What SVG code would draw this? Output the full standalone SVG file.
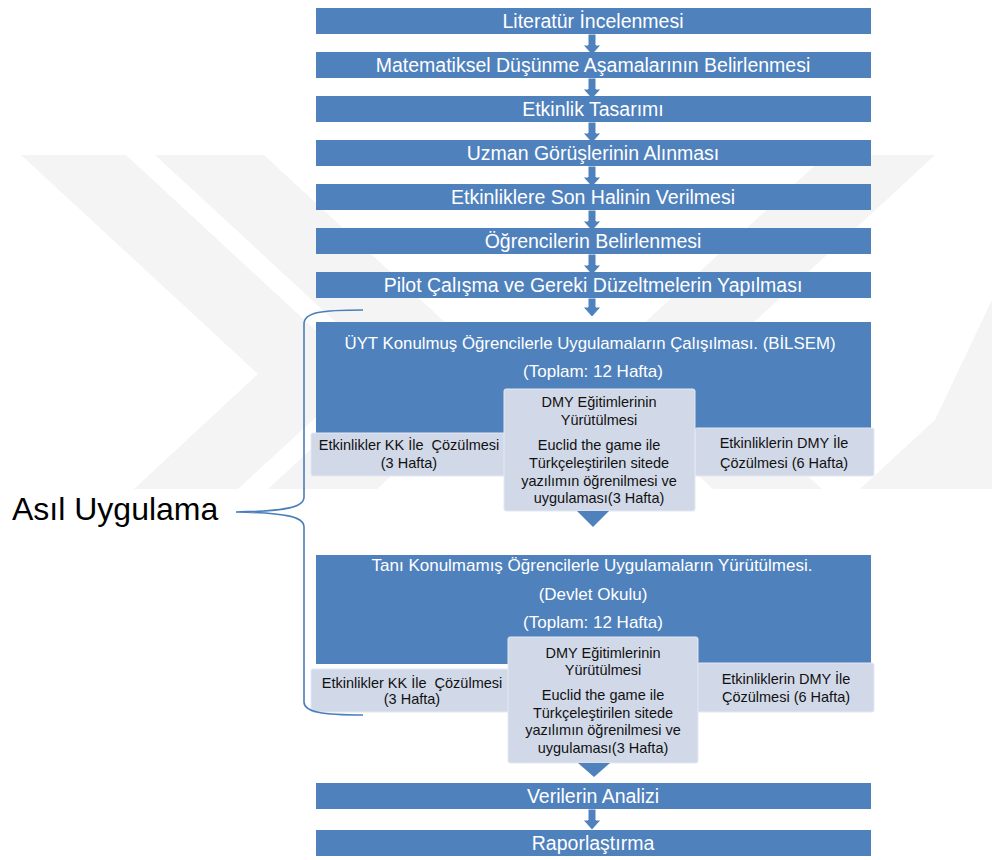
<svg xmlns="http://www.w3.org/2000/svg" width="992" height="860" viewBox="0 0 992 860">
<style>
.bg{fill:#ffffff}
.wm{fill:#f4f4f4}
.main{fill:#4f81bd}
.sub{fill:#d1d9e8;stroke:#e3e8f1;stroke-width:1}
.tw{font-family:"Liberation Sans",Arial,sans-serif;fill:#ffffff;text-anchor:middle;font-size:19.5px}
.th{font-family:"Liberation Sans",Arial,sans-serif;fill:#ffffff;text-anchor:middle;font-size:17px}
.ts{font-family:"Liberation Sans",Arial,sans-serif;fill:#111111;text-anchor:middle;font-size:14.5px}
.arr{fill:#4f81bd;stroke:#ffffff;stroke-width:1}
.tri{fill:#4f81bd}
.brace{fill:none;stroke:#4a7ebb;stroke-width:1.6}
.lbl{font-family:"Liberation Sans",Arial,sans-serif;fill:#000000;font-size:32px}
</style>
<rect class="bg" x="0" y="0" width="992" height="860"/>
<g id="watermark">
<polygon class="wm" points="21,155 126,155 363,374 238,489 134,489 258,374"/>
<polygon class="wm" points="155,155 264,155 501,374 377,489 268,489 392,374"/>
<polygon class="wm" points="826,155 935,155 698,374 822,489 713,489 589,374"/>
<polygon class="wm" points="992,300 992,489 860,489 935,420"/>
</g>
<g id="connectors">
<polygon class="arr" points="588,34 596,34 596,45 601,45 592,55 583,45 588,45"/>
<polygon class="arr" points="588,78 596,78 596,89 601,89 592,99 583,89 588,89"/>
<polygon class="arr" points="588,122 596,122 596,133 601,133 592,143 583,133 588,133"/>
<polygon class="arr" points="588,166 596,166 596,177 601,177 592,187 583,177 588,177"/>
<polygon class="arr" points="588,210 596,210 596,221 601,221 592,231 583,221 588,221"/>
<polygon class="arr" points="588,254 596,254 596,265 601,265 592,275 583,265 588,265"/>
<polygon class="arr" points="588,298 596,298 596,307 601,307 592,317 583,307 588,307"/>
<polygon class="arr" points="588,809 596,809 596,820 601,820 592,830 583,820 588,820"/>
</g>
<g id="n1"><rect class="main" x="316" y="8" width="555" height="26"/><text class="tw" x="593" y="28">Literatür İncelenmesi</text></g>
<g id="n2"><rect class="main" x="316" y="52" width="555" height="26"/><text class="tw" x="593" y="72">Matematiksel Düşünme Aşamalarının Belirlenmesi</text></g>
<g id="n3"><rect class="main" x="316" y="96" width="555" height="26"/><text class="tw" x="593" y="116">Etkinlik Tasarımı</text></g>
<g id="n4"><rect class="main" x="316" y="140" width="555" height="26"/><text class="tw" x="593" y="160">Uzman Görüşlerinin Alınması</text></g>
<g id="n5"><rect class="main" x="316" y="184" width="555" height="26"/><text class="tw" x="593" y="204">Etkinliklere Son Halinin Verilmesi</text></g>
<g id="n6"><rect class="main" x="316" y="228" width="555" height="26"/><text class="tw" x="593" y="248">Öğrencilerin Belirlenmesi</text></g>
<g id="n7"><rect class="main" x="316" y="272" width="555" height="26"/><text class="tw" x="593" y="292">Pilot Çalışma ve Gereki Düzeltmelerin Yapılması</text></g>
<g id="n8">
<rect class="main" x="316" y="322" width="555" height="112"/>
<text class="th" x="590" y="349" textLength="491" lengthAdjust="spacingAndGlyphs">ÜYT Konulmuş Öğrencilerle Uygulamaların Çalışılması. (BİLSEM)</text>
<text class="th" x="593" y="377">(Toplam: 12 Hafta)</text>
</g>
<g id="n8a"><rect class="sub" x="311" y="433" width="196" height="43" rx="2"/>
<text class="ts" x="409" y="450" xml:space="preserve">Etkinlikler KK İle  Çözülmesi</text><text class="ts" x="409" y="468">(3 Hafta)</text></g>
<g id="n8c"><rect class="sub" x="695" y="428" width="179" height="48" rx="2"/>
<text class="ts" x="784" y="448">Etkinliklerin DMY İle</text><text class="ts" x="784" y="468">Çözülmesi (6 Hafta)</text></g>
<g id="n8b"><rect class="sub" x="504" y="389" width="191" height="122" rx="2"/>
<text class="ts" x="599" y="407">DMY Eğitimlerinin</text>
<text class="ts" x="599" y="425">Yürütülmesi</text>
<text class="ts" x="599" y="450">Euclid the game ile</text>
<text class="ts" x="599" y="468">Türkçeleştirilen sitede</text>
<text class="ts" x="599" y="486">yazılımın öğrenilmesi ve</text>
<text class="ts" x="599" y="503">uygulaması(3 Hafta)</text></g>
<polygon class="tri" points="577,511 609,511 593,527"/>
<g id="n9">
<rect class="main" x="316" y="555" width="555" height="109"/>
<text class="th" x="592" y="571">Tanı Konulmamış Öğrencilerle Uygulamaların Yürütülmesi.</text>
<text class="th" x="593" y="600">(Devlet Okulu)</text>
<text class="th" x="593" y="628">(Toplam: 12 Hafta)</text>
</g>
<g id="n9a"><rect class="sub" x="311" y="669" width="198" height="43" rx="2"/>
<text class="ts" x="412" y="688" xml:space="preserve">Etkinlikler KK İle  Çözülmesi</text><text class="ts" x="412" y="704">(3 Hafta)</text></g>
<g id="n9c"><rect class="sub" x="697" y="663" width="177" height="49" rx="2"/>
<text class="ts" x="786" y="684">Etkinliklerin DMY İle</text><text class="ts" x="786" y="702">Çözülmesi (6 Hafta)</text></g>
<g id="n9b"><rect class="sub" x="508" y="637" width="190" height="126" rx="2"/>
<text class="ts" x="603" y="658">DMY Eğitimlerinin</text>
<text class="ts" x="603" y="675">Yürütülmesi</text>
<text class="ts" x="603" y="700">Euclid the game ile</text>
<text class="ts" x="603" y="718">Türkçeleştirilen sitede</text>
<text class="ts" x="603" y="735">yazılımın öğrenilmesi ve</text>
<text class="ts" x="603" y="753">uygulaması(3 Hafta)</text></g>
<polygon class="tri" points="578,763 610,763 594,777"/>
<g id="n10"><rect class="main" x="316" y="783" width="555" height="26"/><text class="tw" x="593" y="803">Verilerin Analizi</text></g>
<g id="n11"><rect class="main" x="316" y="830" width="555" height="26"/><text class="tw" x="593" y="850">Raporlaştırma</text></g>
<g id="brace">
<path class="brace" d="M 363 310 C 322 310 304 312 304 324 L 304 497 C 304 507 288 511 236 512 C 288 513 304 517 304 527 L 304 702 C 304 712 322 715 363 715"/>
<text class="lbl" x="12" y="520">Asıl Uygulama</text>
</g>
</svg>
